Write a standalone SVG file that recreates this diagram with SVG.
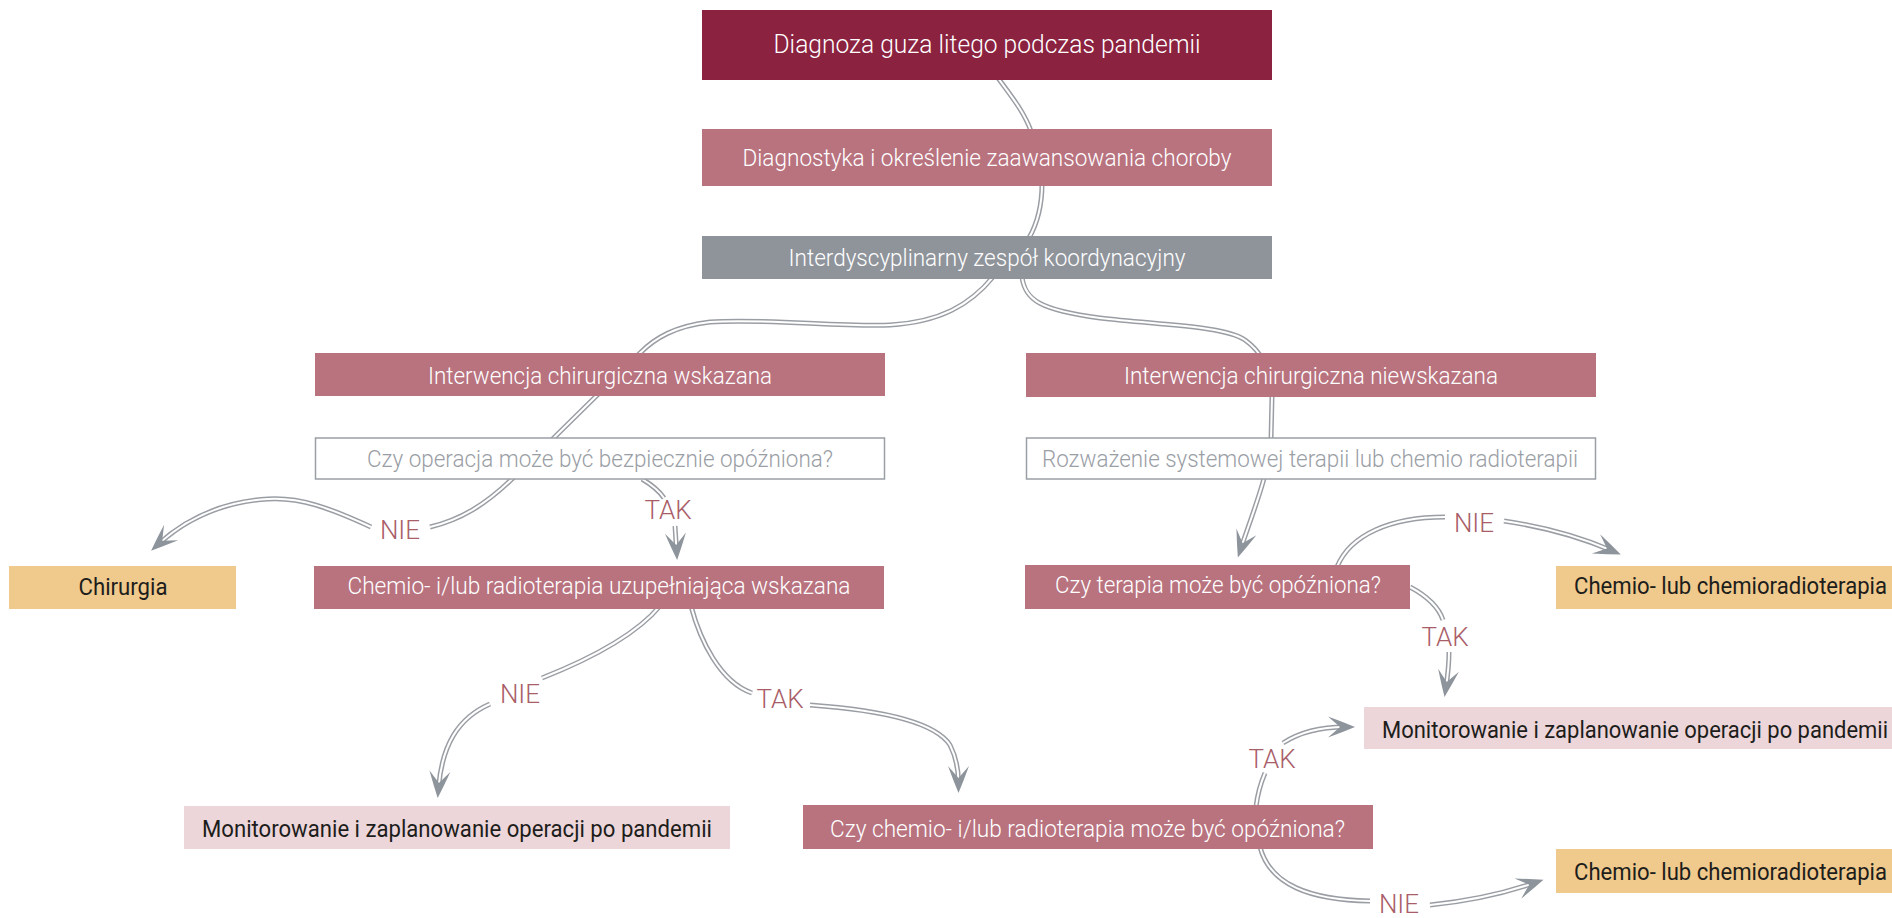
<svg xmlns="http://www.w3.org/2000/svg" xmlns:xlink="http://www.w3.org/1999/xlink" width="1892" height="918" viewBox="0 0 1892 918">
<style>
  .t{font-family:Roboto,"Liberation Sans",sans-serif;font-weight:300;font-size:23px;text-anchor:middle}
  .w{fill:#ffffff}
  .g{fill:#9a9ea5}
  .d{fill:#1d1d1b;font-weight:400}
  .title{font-size:26px}
  .lbl{font-family:Roboto,"Liberation Sans",sans-serif;font-weight:300;font-size:26px;fill:#a95d68;text-anchor:middle}
  .dark{fill:#8b2240}
  .mid{fill:#b8737f}
  .grey{fill:#8f949b}
  .orange{fill:#f0c98d}
  .light{fill:#ecd6d9}
  .outline{fill:#ffffff;stroke:#9a9ea5;stroke-width:1.5}
  .co{fill:none;stroke:#9a9ea4;stroke-width:5}
  .ci{fill:none;stroke:#ffffff;stroke-width:2}
  .arr .ci{marker-end:url(#ah)}
</style>
<defs>
  <marker id="ah" markerUnits="userSpaceOnUse" orient="auto" refX="-10" refY="0" markerWidth="40" markerHeight="30" overflow="visible">
    <path d="M0,0 Q-12,-5 -27,-10.5 L-15,0 L-27,10.5 Q-12,5 0,0 Z" fill="#8e949b"/>
  </marker>
  <path id="p1" d="M998,78 C1012,97 1024,112 1031,131"/>
  <path id="p2" d="M1042,184 C1042,205 1038,222 1029,238"/>
  <path id="p3" d="M993,277 C970,305 940,322 890,325 C840,327 760,318 710,322 C675,326 655,338 640,353 L512,479 C485,505 460,520 430,527"/>
  <path id="p4" d="M371,527 C330,508 300,497 268,499 C220,502 185,520 158.5,544"/>
  <path id="p5" d="M642,479 C652,485 660,492 664,498"/>
  <path id="p6" d="M675,526 L676.5,550"/>
  <path id="p7" d="M660,606 C640,630 600,655 542,678"/>
  <path id="p8" d="M490,704 C458,718 442,745 438.5,788"/>
  <path id="p9" d="M691,606 C700,640 720,682 752,693"/>
  <path id="p10" d="M810,705 C880,710 935,722 950,745 C956,757 958.5,770 958.5,783"/>
  <path id="p11" d="M1022,277 C1025,300 1040,310 1100,318 C1160,325 1225,326 1245,340 C1262,352 1271,370 1272,396 L1271,440 C1270,470 1252,515 1241,548"/>
  <path id="p12" d="M1337,567 C1350,535 1390,517 1445,517"/>
  <path id="p13" d="M1504,521 C1545,527 1580,537 1611.6,550.5"/>
  <path id="p14" d="M1410,587 C1425,595 1438,605 1443,620"/>
  <path id="p15" d="M1449,652 C1449,665 1447.5,677 1446,687"/>
  <path id="p16" d="M1256,807 C1258,790 1262,780 1265,773"/>
  <path id="p17" d="M1283,743 C1300,732 1320,727 1345,727"/>
  <path id="p18" d="M1260,847 C1270,885 1310,900 1370,901"/>
  <path id="p19" d="M1430,905 C1470,901 1505,893 1534,883"/>
</defs>
<rect width="1892" height="918" fill="#ffffff"/>
<g id="connectors">
  <g><use xlink:href="#p1" class="co"/><use xlink:href="#p1" class="ci"/></g>
  <g><use xlink:href="#p2" class="co"/><use xlink:href="#p2" class="ci"/></g>
  <g><use xlink:href="#p3" class="co"/><use xlink:href="#p3" class="ci"/></g>
  <g class="arr"><use xlink:href="#p4" class="co"/><use xlink:href="#p4" class="ci"/></g>
  <g><use xlink:href="#p5" class="co"/><use xlink:href="#p5" class="ci"/></g>
  <g class="arr"><use xlink:href="#p6" class="co"/><use xlink:href="#p6" class="ci"/></g>
  <g><use xlink:href="#p7" class="co"/><use xlink:href="#p7" class="ci"/></g>
  <g class="arr"><use xlink:href="#p8" class="co"/><use xlink:href="#p8" class="ci"/></g>
  <g><use xlink:href="#p9" class="co"/><use xlink:href="#p9" class="ci"/></g>
  <g class="arr"><use xlink:href="#p10" class="co"/><use xlink:href="#p10" class="ci"/></g>
  <g class="arr"><use xlink:href="#p11" class="co"/><use xlink:href="#p11" class="ci"/></g>
  <g><use xlink:href="#p12" class="co"/><use xlink:href="#p12" class="ci"/></g>
  <g class="arr"><use xlink:href="#p13" class="co"/><use xlink:href="#p13" class="ci"/></g>
  <g><use xlink:href="#p14" class="co"/><use xlink:href="#p14" class="ci"/></g>
  <g class="arr"><use xlink:href="#p15" class="co"/><use xlink:href="#p15" class="ci"/></g>
  <g><use xlink:href="#p16" class="co"/><use xlink:href="#p16" class="ci"/></g>
  <g class="arr"><use xlink:href="#p17" class="co"/><use xlink:href="#p17" class="ci"/></g>
  <g><use xlink:href="#p18" class="co"/><use xlink:href="#p18" class="ci"/></g>
  <g class="arr"><use xlink:href="#p19" class="co"/><use xlink:href="#p19" class="ci"/></g>
  <text class="lbl" x="400" y="539">NIE</text>
  <text class="lbl" x="668" y="519">TAK</text>
  <text class="lbl" x="520" y="703">NIE</text>
  <text class="lbl" x="780" y="708">TAK</text>
  <text class="lbl" x="1474" y="532">NIE</text>
  <text class="lbl" x="1445" y="646">TAK</text>
  <text class="lbl" x="1272" y="768">TAK</text>
  <text class="lbl" x="1399" y="913">NIE</text>
</g>
<g id="n1"><rect class="dark" x="702" y="10" width="570" height="70"/><text class="t w title" x="987" y="53" textLength="427" lengthAdjust="spacingAndGlyphs">Diagnoza guza litego podczas pandemii</text></g>
<g id="n2"><rect class="mid" x="702" y="129" width="570" height="57"/><text class="t w" x="987" y="166" textLength="489" lengthAdjust="spacingAndGlyphs">Diagnostyka i określenie zaawansowania choroby</text></g>
<g id="n3"><rect class="grey" x="702" y="236" width="570" height="43"/><text class="t w" x="987" y="266" textLength="397" lengthAdjust="spacingAndGlyphs">Interdyscyplinarny zespół koordynacyjny</text></g>
<g id="n4"><rect class="mid" x="315" y="353" width="570" height="43"/><text class="t w" x="600" y="384" textLength="344" lengthAdjust="spacingAndGlyphs">Interwencja chirurgiczna wskazana</text></g>
<g id="n5"><rect class="mid" x="1026" y="353" width="570" height="44"/><text class="t w" x="1311" y="384" textLength="374" lengthAdjust="spacingAndGlyphs">Interwencja chirurgiczna niewskazana</text></g>
<g id="n6"><rect class="outline" x="315.5" y="438" width="569" height="41"/><text class="t g" x="600" y="467" textLength="466" lengthAdjust="spacingAndGlyphs">Czy operacja może być bezpiecznie opóźniona?</text></g>
<g id="n7"><rect class="outline" x="1026.5" y="438" width="569" height="41"/><text class="t g" x="1310" y="467" textLength="536" lengthAdjust="spacingAndGlyphs">Rozważenie systemowej terapii lub chemio radioterapii</text></g>
<g id="n8"><rect class="orange" x="9" y="566" width="227" height="43"/><text class="t d" x="123" y="595" textLength="89" lengthAdjust="spacingAndGlyphs">Chirurgia</text></g>
<g id="n9"><rect class="mid" x="314" y="566" width="570" height="43"/><text class="t w" x="599" y="594" textLength="503" lengthAdjust="spacingAndGlyphs">Chemio- i/lub radioterapia uzupełniająca wskazana</text></g>
<g id="n10"><rect class="mid" x="1025" y="565" width="385" height="44"/><text class="t w" x="1218" y="593" textLength="326" lengthAdjust="spacingAndGlyphs">Czy terapia może być opóźniona?</text></g>
<g id="n11"><rect class="orange" x="1556" y="566" width="336" height="43"/><text class="t d" x="1730.5" y="594" textLength="313" lengthAdjust="spacingAndGlyphs">Chemio- lub chemioradioterapia</text></g>
<g id="n12"><rect class="light" x="1364" y="707" width="528" height="42"/><text class="t d" x="1635" y="738" textLength="506" lengthAdjust="spacingAndGlyphs">Monitorowanie i zaplanowanie operacji po pandemii</text></g>
<g id="n13"><rect class="light" x="184" y="806" width="546" height="43"/><text class="t d" x="457" y="837" textLength="510" lengthAdjust="spacingAndGlyphs">Monitorowanie i zaplanowanie operacji po pandemii</text></g>
<g id="n14"><rect class="mid" x="803" y="805" width="570" height="44"/><text class="t w" x="1087.5" y="837" textLength="515" lengthAdjust="spacingAndGlyphs">Czy chemio- i/lub radioterapia może być opóźniona?</text></g>
<g id="n15"><rect class="orange" x="1556" y="849" width="336" height="44"/><text class="t d" x="1730.5" y="880" textLength="313" lengthAdjust="spacingAndGlyphs">Chemio- lub chemioradioterapia</text></g>
</svg>
